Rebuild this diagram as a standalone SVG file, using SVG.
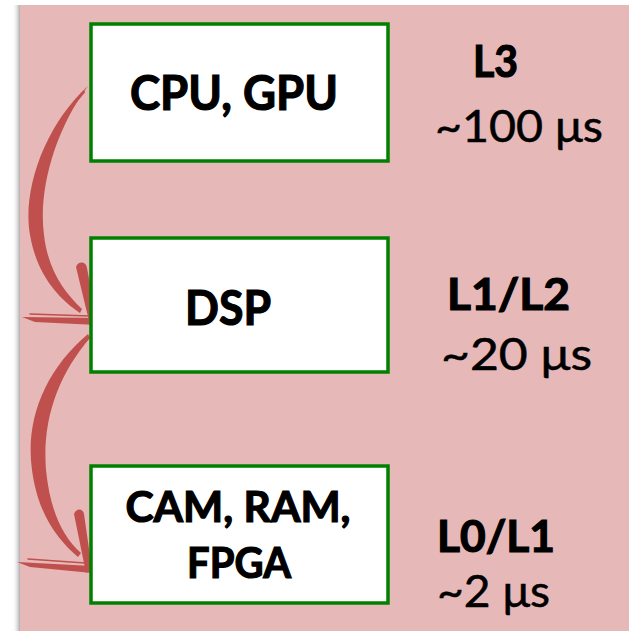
<svg xmlns="http://www.w3.org/2000/svg" width="629" height="631" viewBox="0 0 629 631">
<defs>
<linearGradient id="sh" x1="0" y1="0" x2="1" y2="0">
<stop offset="0" stop-color="#ffffff" stop-opacity="0"/>
<stop offset="1" stop-color="#9a9a9a" stop-opacity="0.8"/>
</linearGradient>
<style>
.box{fill:#ffffff;stroke:#008000;stroke-width:3.5}
.bt{font-family:Lato,"Open Sans","Liberation Sans",sans-serif;font-weight:bold;fill:#000;stroke:#000;stroke-width:1.2;text-anchor:middle}
.lt{font-family:Lato,"Open Sans","Liberation Sans",sans-serif;fill:#000;stroke:#000;stroke-width:0.5}
.lb{font-weight:bold;stroke-width:1.2}
.br{fill:#C0504D}
.bs{fill:none;stroke:#C0504D;stroke-linecap:round}
</style>
</defs>
<rect x="12" y="5" width="8" height="626" fill="url(#sh)"/>
<rect x="20" y="5" width="609" height="626" fill="#E6B8B7"/>
<g id="connectors">
<g id="arrow1">
<path class="br" d="M88,86 C45,125 22,190 30,235 C37,275 58,298 80,313 L82,309 C64,292 48,270 44,235 C38,190 55,130 88,86 Z"/>
<path class="bs" stroke-width="2" d="M84,92 C50,130 31,190 35,232 C39,270 56,292 74,306"/>
<path class="bs" stroke-width="1.5" d="M80,96 C46,140 33,200 40,245"/>
<path class="br" d="M76,267 C78,261 86,261 87,268 L97,322 L90,325 Z"/>
<path class="br" d="M22,317 L97,318 L97,325 L35,322 Z"/>
<path class="bs" stroke-width="1.5" d="M30,314 L90,316"/>
</g>
<g id="arrow2">
<path class="br" d="M88,334 C45,370 25,420 32,470 C38,515 58,540 78,557 L81,553 C62,536 50,510 46,470 C42,420 58,375 90,338 Z"/>
<path class="bs" stroke-width="2" d="M84,340 C52,375 33,425 37,468 C41,510 58,532 73,548"/>
<path class="bs" stroke-width="1.5" d="M80,346 C50,390 36,440 42,485"/>
<path class="br" d="M74,514 C76,508 83,508 84,514 L92,570 L86,573 Z"/>
<path class="br" d="M17,562 L92,566 L92,573 L30,567 Z"/>
<path class="bs" stroke-width="1.5" d="M28,559 L85,563"/>
</g>
</g>
<g id="node-cpu">
<rect class="box" x="91" y="24" width="297" height="137"/>
<text class="bt" x="234" y="110" font-size="48" textLength="208" lengthAdjust="spacingAndGlyphs">CPU, GPU</text>
</g>
<g id="node-dsp">
<rect class="box" x="91" y="238" width="297" height="134"/>
<text class="bt" x="228" y="325" font-size="48" textLength="86" lengthAdjust="spacingAndGlyphs">DSP</text>
</g>
<g id="node-cam">
<rect class="box" x="91" y="466" width="297" height="137"/>
<text class="bt" x="238" y="522" font-size="42" textLength="225" lengthAdjust="spacingAndGlyphs">CAM, RAM,</text>
<text class="bt" x="239" y="578" font-size="42" textLength="104" lengthAdjust="spacingAndGlyphs">FPGA</text>
</g>
<g id="label-l3">
<text class="lt lb" x="473" y="77" font-size="44" textLength="45" lengthAdjust="spacingAndGlyphs">L3</text>
<text class="lt" x="435" y="142" font-size="44" textLength="168" lengthAdjust="spacingAndGlyphs">~100 μs</text>
</g>
<g id="label-l12">
<text class="lt lb" x="447" y="310" font-size="44" textLength="123" lengthAdjust="spacingAndGlyphs">L1/L2</text>
<text class="lt" x="441" y="370" font-size="44" textLength="151" lengthAdjust="spacingAndGlyphs">~20 μs</text>
</g>
<g id="label-l01">
<text class="lt lb" x="437" y="552" font-size="44" textLength="118" lengthAdjust="spacingAndGlyphs">L0/L1</text>
<text class="lt" x="437" y="607" font-size="44" textLength="113" lengthAdjust="spacingAndGlyphs">~2 μs</text>
</g>
</svg>
